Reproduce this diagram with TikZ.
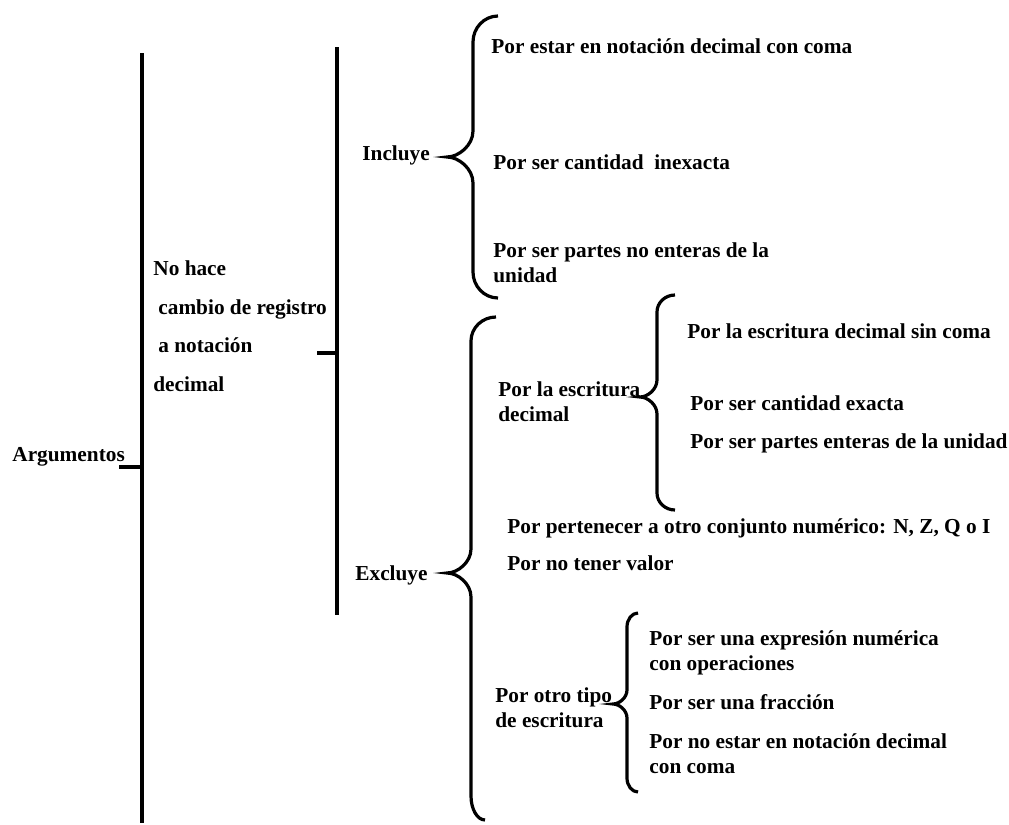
\documentclass[tikz,border=0pt]{standalone}
\usepackage{fontspec}
\setmainfont{Liberation Serif}
\usepackage{tikz}

\tikzset{
  texto/.style={font=\bfseries\fontsize{10.65}{12.5}\selectfont, anchor=base west, inner sep=0pt, align=left},
  trazo/.style={line width=1.6pt}
}

% llave: x extremo sup., x extremo inf., x recta, x punta, y sup., y punta, y inf.
\newcommand{\llave}[7]{%
  \pgfmathsetmacro{\radio}{#3-#4}
  \draw[trazo] (#1,#5) .. controls ({#3+0.45*(#1-#3)},#5) and (#3,{#5+0.45*\radio}) .. (#3,{#5+\radio})
    -- (#3,{#6-\radio}) .. controls (#3,{#6-0.45*\radio}) and ({#4+0.45*\radio},#6) .. (#4,#6)
    .. controls ({#4+0.45*\radio},#6) and (#3,{#6+0.45*\radio}) .. (#3,{#6+\radio})
    -- (#3,{#7-\radio}) .. controls (#3,{#7-0.45*\radio}) and ({#3+0.45*(#2-#3)},#7) .. (#2,#7);
}

\begin{document}
\begin{tikzpicture}[x=0.5pt, y=-0.5pt]
  \useasboundingbox (0,0) rectangle (1009,825);

  \node[texto] (arg) at (12,461) {Argumentos};
  \node[texto] (nohace) at (153,391) {No hace\\[6.75pt]\hspace*{2.5pt}cambio de registro\\[6.75pt]\hspace*{2.5pt}a notación\\[6.75pt]decimal};
  \node[texto] (incl) at (362,160) {Incluye};
  \node[texto] (excl) at (355,580) {Excluye};

  \node[texto] (i1) at (491,53) {Por estar en notación decimal con coma};
  \node[texto] (i2) at (493,169) {Por ser cantidad\ \ inexacta};
  \node[texto] (i3) at (493,282) {Por ser partes no enteras de la\\unidad};

  \node[texto] (e1) at (498,421) {Por la escritura\\decimal};
  \node[texto] (e11) at (687,338) {Por la escritura decimal sin coma};
  \node[texto] (e12) at (690,410) {Por ser cantidad exacta};
  \node[texto] (e13) at (690,448) {Por ser partes enteras de la unidad};
  \node[texto] (e2) at (507,533) {Por pertenecer a otro conjunto numérico: N, Z, Q o I};
  \node[texto] (e3) at (507,570) {Por no tener valor};
  \node[texto] (e4) at (495,727) {Por otro tipo\\de escritura};
  \node[texto] (e41) at (649,670) {Por ser una expresión numérica\\con operaciones};
  \node[texto] (e42) at (649,709) {Por ser una fracción};
  \node[texto] (e43) at (649,773) {Por no estar en notación decimal\\con coma};

  \coordinate (a1) at (142,53);
  \coordinate (a2) at (142,823);
  \coordinate (b1) at (337,47);
  \coordinate (b2) at (337,615);
  \draw[trazo] (a1) -- (a2);
  \draw[trazo] (b1) -- (b2);

  \coordinate (t1) at ([xshift=-3pt,yshift=-3pt]arg.base east);
  \coordinate (t2) at (317,353);
  \draw[trazo] (t1) -- (t1 -| a1);
  \draw[trazo] (t2) -- (t2 -| b1);

  \llave{498}{498}{473}{447}{16}{157}{298}
  \llave{496}{485}{471}{447}{317}{573}{820}
  \llave{675}{675}{657}{640}{295}{397}{510}
  \llave{638}{638}{627}{613}{613}{704}{792}
\end{tikzpicture}
\end{document}
